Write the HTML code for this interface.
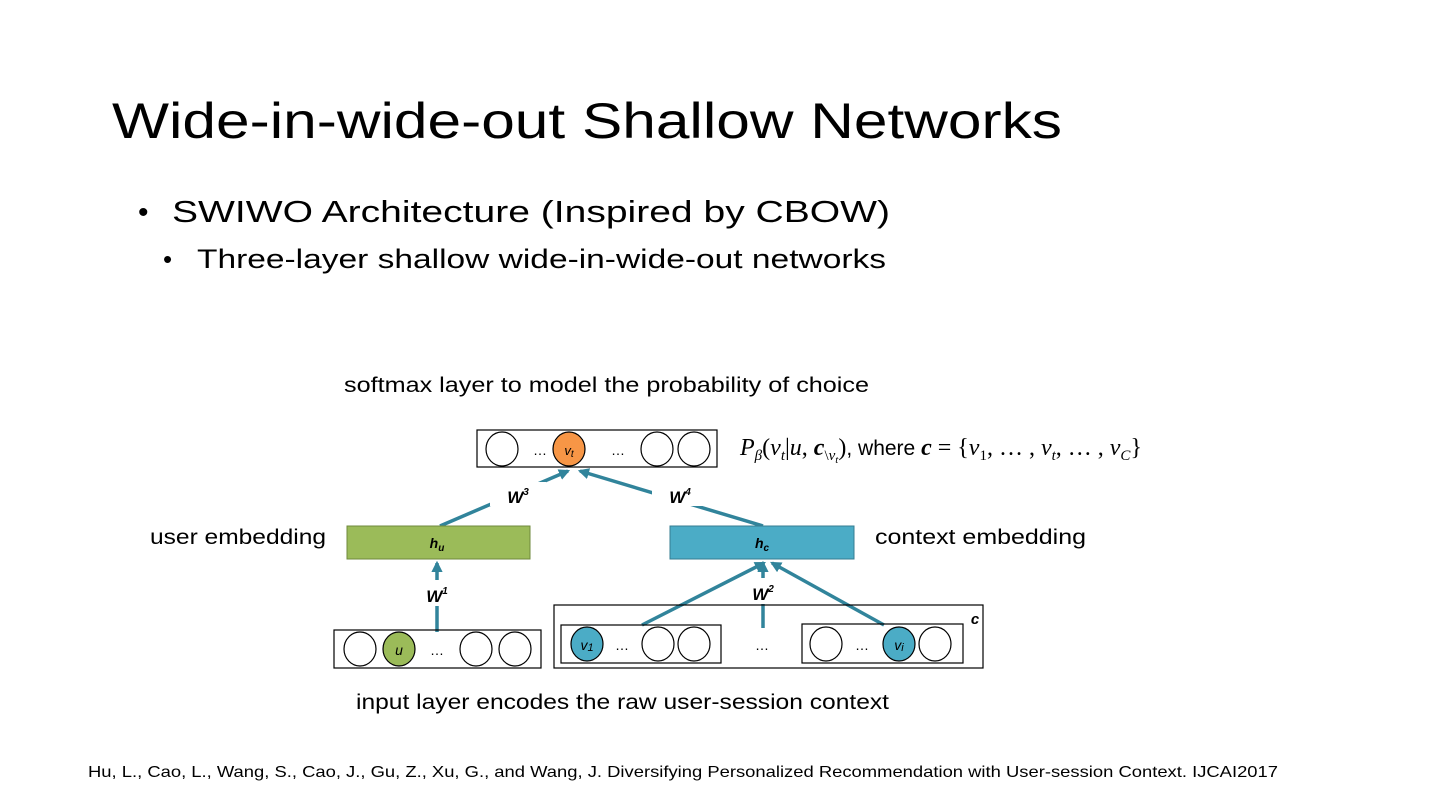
<!DOCTYPE html>
<html><head><meta charset="utf-8"><style>
html,body{margin:0;padding:0;background:#fff;}
svg{display:block;}
text{font-family:"Liberation Sans",sans-serif;fill:#000;}
.m{font-family:"Liberation Serif",serif;font-style:italic;}
</style></head><body>
<svg width="1440" height="810" viewBox="0 0 1440 810" xmlns="http://www.w3.org/2000/svg">
<defs>
<marker id="ah" viewBox="0 0 10 10" refX="8" refY="5" markerWidth="3.2" markerHeight="3.2" orient="auto"><path d="M0,0 L10,5 L0,10 z" fill="#31849B"/></marker>
</defs>
<text x="112" y="138" font-size="50" textLength="950" lengthAdjust="spacingAndGlyphs">Wide-in-wide-out Shallow Networks</text>
<text x="138" y="222" font-size="30">•</text>
<text x="172" y="222" font-size="31" textLength="718" lengthAdjust="spacingAndGlyphs">SWIWO Architecture (Inspired by CBOW)</text>
<text x="163" y="268" font-size="26">•</text>
<text x="197" y="268" font-size="27" textLength="689" lengthAdjust="spacingAndGlyphs">Three-layer shallow wide-in-wide-out networks</text>

<text x="344" y="392" font-size="21" textLength="525" lengthAdjust="spacingAndGlyphs">softmax layer to model the probability of choice</text>
<text x="150" y="544" font-size="21" textLength="176" lengthAdjust="spacingAndGlyphs">user embedding</text>
<text x="875" y="544" font-size="21" textLength="211" lengthAdjust="spacingAndGlyphs">context embedding</text>
<text x="356" y="709" font-size="21" textLength="533" lengthAdjust="spacingAndGlyphs">input layer encodes the raw user-session context</text>
<text x="88" y="777" font-size="16" textLength="1190" lengthAdjust="spacingAndGlyphs">Hu, L., Cao, L., Wang, S., Cao, J., Gu, Z., Xu, G., and Wang, J. Diversifying Personalized Recommendation with User-session Context. IJCAI2017</text>

<!-- formula -->
<text x="740" y="455" font-size="24"><tspan class="m">P</tspan><tspan class="m" font-size="15" dy="5">β</tspan><tspan dy="-5" font-family="Liberation Serif">(</tspan><tspan class="m">v</tspan><tspan class="m" font-size="15" dy="5">t</tspan><tspan dy="-5" font-family="Liberation Serif">|</tspan><tspan class="m">u</tspan><tspan font-family="Liberation Serif">, </tspan><tspan class="m" font-weight="bold">c</tspan><tspan font-family="Liberation Serif" font-size="15" dy="5">\</tspan><tspan class="m" font-size="15">v</tspan><tspan class="m" font-size="11" dy="3">t</tspan><tspan dy="-8" font-family="Liberation Serif">)</tspan><tspan font-size="21">, where </tspan><tspan class="m" font-weight="bold">c</tspan><tspan font-family="Liberation Serif"> = {</tspan><tspan class="m">v</tspan><tspan font-family="Liberation Serif" font-size="15" dy="5">1</tspan><tspan font-family="Liberation Serif" dy="-5">, … , </tspan><tspan class="m">v</tspan><tspan class="m" font-size="15" dy="5">t</tspan><tspan font-family="Liberation Serif" dy="-5">, … , </tspan><tspan class="m">v</tspan><tspan class="m" font-size="15" dy="5">C</tspan><tspan font-family="Liberation Serif" dy="-5">}</tspan></text>

<!-- top softmax box -->
<rect x="477" y="430" width="240" height="37" fill="#fff" stroke="#000" stroke-width="1.2"/>
<g stroke="#000" stroke-width="1.2" fill="#fff">
<ellipse cx="502" cy="449" rx="16" ry="17"/>
<ellipse cx="569" cy="449" rx="16" ry="17" fill="#F79646"/>
<ellipse cx="657" cy="449" rx="16" ry="17"/>
<ellipse cx="694" cy="449" rx="16" ry="17"/>
</g>
<text x="540" y="455" font-size="14" text-anchor="middle">…</text>
<text x="618" y="455" font-size="14" text-anchor="middle">…</text>
<text x="569" y="455" font-size="13" font-style="italic" text-anchor="middle">v<tspan font-size="10" dy="2">t</tspan></text>

<!-- arrows top -->
<g stroke="#31849B" stroke-width="3.5" fill="none" marker-end="url(#ah)">
<line x1="440" y1="526" x2="568" y2="471"/>
<line x1="763" y1="526" x2="580" y2="471"/>
<line x1="437" y1="632" x2="437" y2="563"/>
<line x1="642" y1="625" x2="764" y2="563"/>
<line x1="763" y1="628" x2="763" y2="563"/>
<line x1="884" y1="625" x2="772" y2="563"/>
</g>
<rect x="490" y="482" width="56" height="24" fill="#fff"/>
<rect x="652" y="482" width="56" height="24" fill="#fff"/>
<rect x="416" y="580" width="42" height="26" fill="#fff"/>
<rect x="742" y="578" width="42" height="26" fill="#fff"/>
<text x="518" y="503" font-size="17" font-style="italic" text-anchor="middle" font-weight="bold">W<tspan font-size="10" dy="-8">3</tspan></text>
<text x="680" y="503" font-size="17" font-style="italic" text-anchor="middle" font-weight="bold">W<tspan font-size="10" dy="-8">4</tspan></text>
<text x="437" y="602" font-size="17" font-style="italic" text-anchor="middle" font-weight="bold">W<tspan font-size="10" dy="-8">1</tspan></text>
<text x="763" y="600" font-size="17" font-style="italic" text-anchor="middle" font-weight="bold">W<tspan font-size="10" dy="-8">2</tspan></text>

<!-- hidden boxes -->
<rect x="347" y="526" width="183" height="33" fill="#9BBB59" stroke="#6f8a3c" stroke-width="1"/>
<rect x="670" y="526" width="184" height="33" fill="#4BACC6" stroke="#357d91" stroke-width="1"/>
<text x="437" y="548" font-size="14" font-style="italic" font-weight="bold" text-anchor="middle">h<tspan font-size="10" dy="3">u</tspan></text>
<text x="762" y="548" font-size="14" font-style="italic" font-weight="bold" text-anchor="middle">h<tspan font-size="10" dy="3">c</tspan></text>

<!-- bottom-left input -->
<rect x="334" y="630" width="207" height="38" fill="none" stroke="#000" stroke-width="1.2"/>
<g stroke="#000" stroke-width="1.2" fill="#fff">
<ellipse cx="360" cy="649" rx="16" ry="17"/>
<ellipse cx="399" cy="649" rx="16" ry="17" fill="#9BBB59"/>
<ellipse cx="476" cy="649" rx="16" ry="17"/>
<ellipse cx="515" cy="649" rx="16" ry="17"/>
</g>
<text x="399" y="655" font-size="14" font-style="italic" text-anchor="middle">u</text>
<text x="437" y="655" font-size="14" text-anchor="middle">…</text>

<!-- context input -->
<rect x="554" y="605" width="429" height="63" fill="none" stroke="#000" stroke-width="1.2"/>
<rect x="561" y="625" width="160" height="38" fill="none" stroke="#000" stroke-width="1.2"/>
<rect x="802" y="624" width="161" height="39" fill="none" stroke="#000" stroke-width="1.2"/>
<g stroke="#000" stroke-width="1.2" fill="#fff">
<ellipse cx="587" cy="644" rx="16" ry="17" fill="#4BACC6"/>
<ellipse cx="658" cy="644" rx="16" ry="17"/>
<ellipse cx="694" cy="644" rx="16" ry="17"/>
<ellipse cx="826" cy="644" rx="16" ry="17"/>
<ellipse cx="899" cy="644" rx="16" ry="17" fill="#4BACC6"/>
<ellipse cx="935" cy="644" rx="16" ry="17"/>
</g>
<text x="587" y="650" font-size="14" font-style="italic" text-anchor="middle">v<tspan font-size="11" dy="1">1</tspan></text>
<text x="899" y="650" font-size="14" font-style="italic" text-anchor="middle">v<tspan font-size="11" dy="1">i</tspan></text>
<text x="622" y="650" font-size="14" text-anchor="middle">…</text>
<text x="862" y="650" font-size="14" text-anchor="middle">…</text>
<text x="762" y="650" font-size="14" text-anchor="middle">…</text>
<text x="975" y="624" font-size="15" font-style="italic" font-weight="bold" text-anchor="middle">c</text>
</svg>
</body></html>
